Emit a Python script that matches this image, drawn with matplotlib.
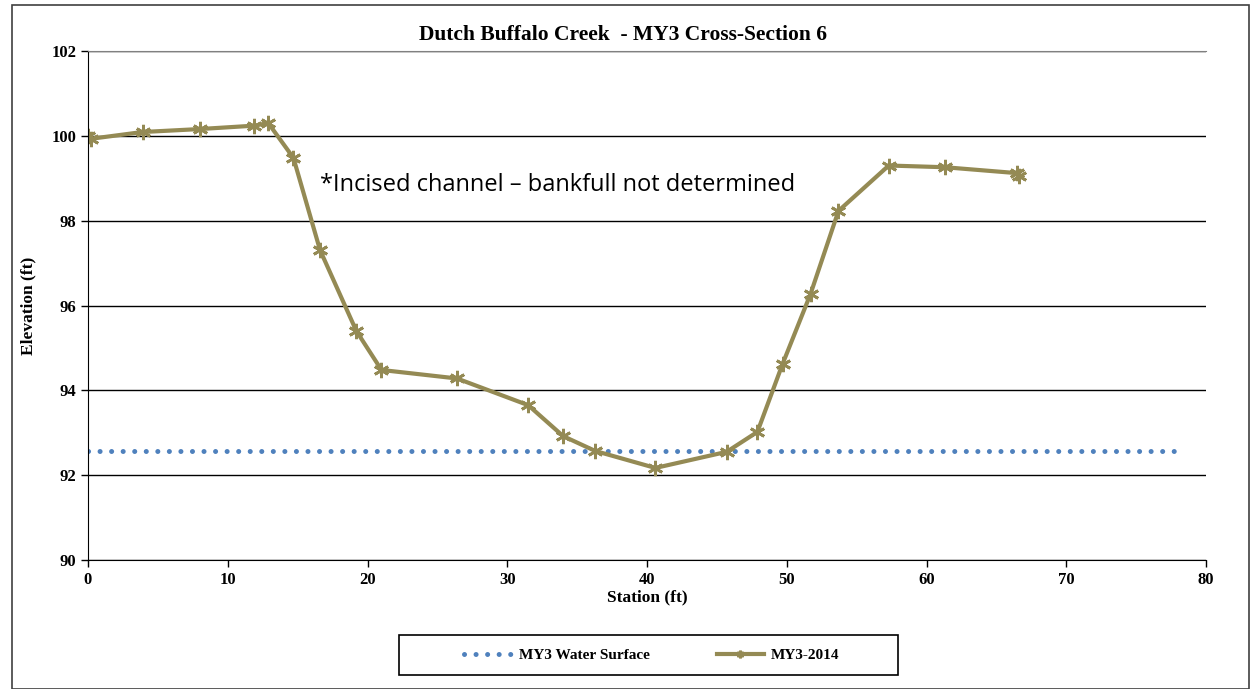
import numpy as np
import matplotlib
matplotlib.use('Agg')
import matplotlib.pyplot as plt
from matplotlib.patches import Rectangle

# survey data
station = [0.0, 0.2, 3.9, 8.0, 11.9, 12.9, 14.7, 16.6, 19.2, 21.0, 26.4, 31.5,
           34.0, 36.3, 40.6, 45.7, 47.9, 49.7, 51.7, 53.7, 57.3, 61.3, 66.5, 66.6]
elevation = [100.0, 99.93, 100.09, 100.16, 100.24, 100.30, 99.48, 97.31, 95.40,
             94.48, 94.28, 93.65, 92.92, 92.57, 92.17, 92.55, 93.02, 94.62,
             96.27, 98.23, 99.30, 99.26, 99.12, 99.05]
water_x = [0, 78]
water_y = [92.56, 92.56]

serif = ['Liberation Serif', 'DejaVu Serif']
W, H = 1251, 689

fig = plt.figure(figsize=(12.51, 6.89), dpi=100)
# chart border
fig.patches.append(Rectangle((12 / W, 0), 1237 / W, 1 - 5 / H,
                             transform=fig.transFigure, fill=False,
                             edgecolor='#404040', linewidth=1.2))
# legend box
fig.patches.append(Rectangle((399 / W, 1 - 675 / H), 499 / W, 40 / H,
                             transform=fig.transFigure, fill=False,
                             edgecolor='black', linewidth=1.2))

ax = fig.add_axes([88 / W, 1 - 560 / H, 1118 / W, 509 / H])

ax.plot(water_x, water_y, color='#4F81BD', linewidth=3.6,
        linestyle=(0, (0.01, 2.3)), dash_capstyle='round',
        label='MY3 Water Surface')
ax.plot(station, elevation, color='#948A54', linewidth=3,
        marker=(6, 2, 0), markersize=11, markeredgewidth=2,
        markeredgecolor='#948A54', label='MY3-2014')

ax.set_xlim(0, 80)
ax.set_ylim(90, 102)
ax.set_xticks(range(0, 81, 10))
ax.set_yticks(range(90, 103, 2))
ax.yaxis.grid(True, color='black', linewidth=1)
ax.set_axisbelow(True)
ax.spines['right'].set_visible(False)
ax.spines['top'].set_color('#808080')
ax.tick_params(direction='out', length=5, width=1, colors='black')
for lab in ax.get_xticklabels() + ax.get_yticklabels():
    lab.set_fontfamily(serif)
    lab.set_fontweight('bold')
    lab.set_fontsize(12)

ax.set_xlabel('Station (ft)', fontfamily=serif, fontweight='bold',
              fontsize=12.5, labelpad=1)
ax.set_ylabel('Elevation (ft)', fontfamily=serif, fontweight='bold',
              fontsize=12.5, labelpad=11)

fig.text(623 / W, 1 - 35 / H, 'Dutch Buffalo Creek  - MY3 Cross-Section 6',
         ha='center', va='center', fontfamily=serif, fontweight='bold',
         fontsize=15.5)

ax.text(16.6, 98.85, '*Incised channel \u2013 bankfull not determined',
        fontfamily=['Open Sans', 'DejaVu Sans'], fontsize=17,
        ha='left', va='center')

leg = fig.legend(loc='center', ncol=2, bbox_to_anchor=(652 / W, 1 - 655 / H),
                 frameon=False,
                 prop={'family': serif, 'weight': 'bold', 'size': 11},
                 handlelength=3.1, handletextpad=0.45, columnspacing=4.4,
                 borderaxespad=0, markerscale=0.5)

fig.savefig('out.png', dpi=100)
